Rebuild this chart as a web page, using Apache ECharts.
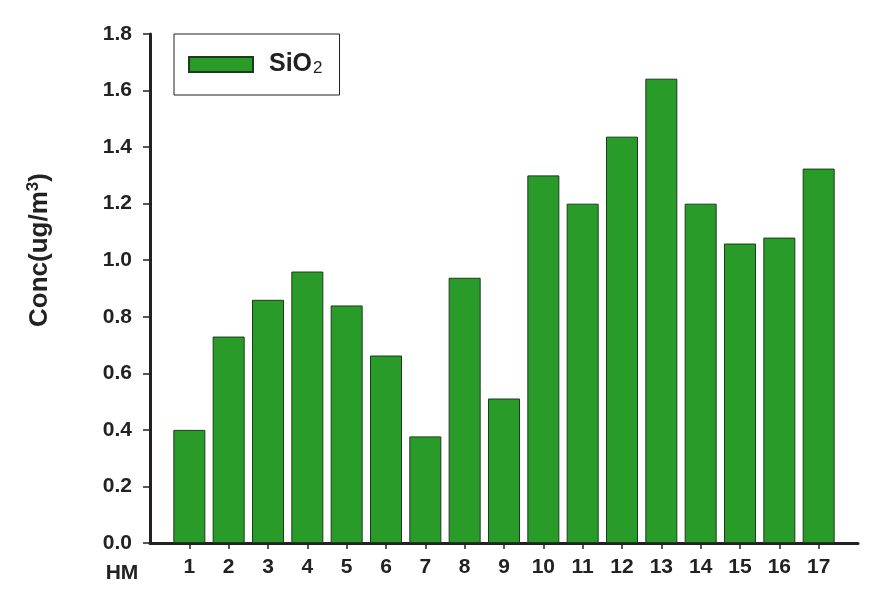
<!DOCTYPE html>
<html>
<head>
<meta charset="utf-8">
<script src="https://cdn.jsdelivr.net/npm/echarts@6/dist/echarts.min.js"></script>
<style>html,body{margin:0;padding:0;background:#fff;}#c{width:877px;height:596px;}</style>
</head>
<body>
<div id="c"></div>
<script>
var categories = [1, 2, 3, 4, 5, 6, 7, 8, 9, 10, 11, 12, 13, 14, 15, 16, 17];
var sio2 = [0.40, 0.73, 0.86, 0.96, 0.84, 0.663, 0.377, 0.938, 0.511, 1.30, 1.20, 1.437, 1.642, 1.20, 1.059, 1.08, 1.324];
var yTicks = [0, 0.2, 0.4, 0.6, 0.8, 1.0, 1.2, 1.4, 1.6, 1.8];
var seriesName = 'SiO2';

var FONT = 'Arial, "Liberation Sans", sans-serif';
var chart = echarts.init(document.getElementById('c'), null, {renderer: 'canvas'});
var data = categories.map(function (c, i) { return [c, sio2[i]]; });

chart.setOption({
  animation: false,
  backgroundColor: '#ffffff',
  grid: {left: 150, right: 19, top: 34, bottom: 53, containLabel: false},
  legend: {
    left: 174, top: 34,
    orient: 'horizontal',
    borderColor: '#222', borderWidth: 1,
    padding: [18, 17, 18, 14],
    itemWidth: 64, itemHeight: 15,
    icon: 'rect',
    data: [seriesName],
    formatter: function () { return '{a|SiO}{sub|2}'; },
    textStyle: {
      rich: {
        a: {fontFamily: FONT, fontWeight: 'bold', fontSize: 25, color: '#222', padding: [0, 0, 0, 11]},
        sub: {fontFamily: FONT, fontWeight: 'normal', fontSize: 17, color: '#222', verticalAlign: 'bottom', padding: [0, 0, 0, 1]}
      }
    }
  },
  xAxis: {
    type: 'value', min: 0, max: 18, interval: 1,
    splitLine: {show: false},
    axisLine: {show: true, onZero: false, lineStyle: {color: '#222', width: 3}},
    axisTick: {show: true, length: 6, lineStyle: {color: '#222', width: 1.5}, customValues: categories},
    axisLabel: {
      customValues: categories, margin: 14,
      fontFamily: FONT, fontWeight: 'bold', fontSize: 21, color: '#222'
    }
  },
  yAxis: {
    type: 'value', min: 0, max: 1.8, interval: 0.2,
    splitLine: {show: false},
    axisLine: {show: true, lineStyle: {color: '#222', width: 3}},
    axisTick: {show: true, length: 7, lineStyle: {color: '#222', width: 1.5}, customValues: yTicks},
    axisLabel: {
      customValues: yTicks, margin: 18,
      fontFamily: FONT, fontWeight: 'bold', fontSize: 21, color: '#222',
      formatter: function (v) { return v.toFixed(1); }
    }
  },
  graphic: [
    {
      type: 'text', x: 122, y: 573,
      style: {text: 'HM', fontFamily: FONT, fontWeight: 'bold', fontSize: 21, fill: '#222', align: 'center', verticalAlign: 'middle'}
    },
    {
      type: 'text', x: 40, y: 250, rotation: Math.PI / 2,
      style: {
        text: '{a|Conc(ug/m}{s|3}{a|)}',
        align: 'center', verticalAlign: 'middle',
        rich: {
          a: {fontFamily: FONT, fontWeight: 'bold', fontSize: 26, fill: '#222', lineHeight: 30},
          s: {fontFamily: FONT, fontWeight: 'bold', fontSize: 17, fill: '#222', verticalAlign: 'top', lineHeight: 30}
        }
      }
    }
  ],
  series: [{
    name: seriesName,
    type: 'bar',
    barWidth: 32,
    data: data,
    itemStyle: {color: '#299b29', borderColor: '#1c3a1c', borderWidth: 1}
  }]
});
</script>
</body>
</html>
